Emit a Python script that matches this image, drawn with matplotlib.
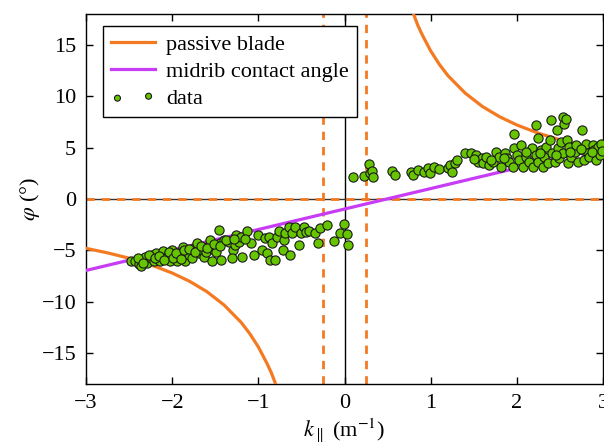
import numpy as np
import matplotlib
matplotlib.use("Agg")
import matplotlib.pyplot as plt

# passive blade curve (two branches)
blade_x_neg = [-3.0, -2.75, -2.5, -2.25, -2.0, -1.8, -1.6, -1.4, -1.2, -1.1, -1.0, -0.95, -0.9, -0.85, -0.8]
blade_y_neg = [-4.8, -5.24, -5.76, -6.4, -7.2, -8.0, -9.0, -10.3, -12.0, -13.1, -14.4, -15.2, -16.0, -16.9, -18.0]
blade_x_pos = [0.8, 0.85, 0.9, 0.95, 1.0, 1.1, 1.2, 1.4, 1.6, 1.8, 2.0, 2.25, 2.5, 2.75, 3.0]
blade_y_pos = [18.0, 16.9, 16.0, 15.2, 14.4, 13.1, 12.0, 10.3, 9.0, 8.0, 7.2, 6.4, 5.76, 5.24, 4.8]

# midrib contact angle line
midrib_x = [-3.0, 3.0]
midrib_y = [-6.95, 5.0]

# asymptotes of the blade model
k_cut = [-0.25, 0.25]

# measured points
data_x = [
    -2.48, -2.43, -2.39, -2.36, -2.33, -2.31, -2.29, -2.25, -2.23, -2.21,
    -2.19, -2.17, -2.14, -2.11, -2.08, -2.05, -2.02, -2.00, -1.97, -1.94,
    -1.92, -1.88, -1.88, -1.85, -1.83, -1.80, -1.77, -1.75, -1.71, -1.69,
    -1.67, -1.63, -1.61, -1.59, -1.56, -1.54, -1.52, -1.50, -1.49, -1.46,
    -1.44, -1.43, -1.40, -1.34, -1.30, -1.31, -1.27, -1.26, -1.23, -1.20,
    -1.19, -1.13, -1.08, -1.05, -1.01, -0.96, -0.92, -0.90, -0.88, -0.86,
    -0.84, -0.81, -0.78, -0.76, -0.72, -0.70, -0.69, -0.65, -0.63, -0.61,
    -0.57, -0.53, -0.51, -0.47, -0.45, -0.41, -0.34, -0.31, -0.28, -0.20,
    -0.12, -0.05, -0.01, 0.03, 0.04,
    -2.40, -2.34, -2.27, -2.20, -2.15, -2.10, -2.04, -1.99, -1.95, -1.90,
    -1.86, -1.81, -1.74, -1.66, -1.60, -1.52, -1.45, -1.37, -1.28, -1.16,
    0.10, 0.22, 0.28, 0.30, 0.32, 0.33, 0.55, 0.58, 0.77, 0.79,
    0.85, 0.92, 0.97, 0.99, 1.04, 1.10, 1.20, 1.22, 1.25, 1.28,
    1.30,
    1.40, 1.47, 1.53, 1.55, 1.59, 1.61, 1.64, 1.68, 1.72, 1.76,
    1.79, 1.82, 1.86, 1.88, 1.91, 1.95, 1.97, 1.97, 2.00, 2.03,
    2.05, 2.07, 2.11, 2.14, 2.17, 2.19, 2.22, 2.22, 2.24, 2.25,
    2.28, 2.30, 2.32, 2.34, 2.36, 2.38, 2.40, 2.41, 2.44, 2.46,
    2.48, 2.49, 2.51, 2.53, 2.54, 2.55, 2.57, 2.58, 2.59, 2.61,
    2.63, 2.67, 2.69, 2.71, 2.75, 2.77, 2.78, 2.80, 2.82, 2.84,
    2.88, 2.90, 2.92, 2.94, 2.96, 2.98,
    1.50, 1.70, 1.85, 2.10, 2.27, 2.45, 2.62, 2.74, 2.87, 2.99,
]
data_y = [
    -5.99, -6.08, -6.31, -6.50, -5.92, -5.60, -6.25, -5.76, -5.44, -6.08,
    -5.27, -5.86, -6.08, -5.02, -5.76, -5.44, -5.99, -4.95, -5.60, -6.08,
    -5.27, -4.63, -5.60, -6.08, -5.11, -5.44, -5.76, -4.79, -4.24, -5.27,
    -4.95, -5.60, -5.11, -4.63, -3.98, -6.08, -4.95, -4.47, -5.11, -3.01,
    -4.30, -5.92, -3.98, -4.14, -4.95, -5.76, -4.47, -3.49, -4.14, -3.72,
    -5.60, -3.07, -4.30, -5.44, -3.49, -4.95, -3.82, -5.27, -3.72, -5.92,
    -4.30, -5.92, -3.72, -3.07, -4.95, -3.98, -3.33, -2.75, -5.44, -3.33,
    -2.69, -4.47, -3.33, -2.75, -3.17, -3.07, -3.33, -4.30, -2.85, -2.52,
    -4.04, -3.33, -2.43, -3.40, -4.47,
    -5.70, -6.20, -5.40, -5.70, -5.50, -5.90, -5.20, -5.70, -5.30, -5.80,
    -5.00, -4.90, -5.20, -4.60, -4.80, -4.40, -4.60, -4.00, -3.90, -3.90,
    2.17, 2.23, 3.40, 2.49, 2.75, 2.10, 2.75, 2.33, 2.65, 2.33,
    2.82, 2.65, 2.98, 2.49, 3.14, 2.88, 2.98, 3.30, 2.65, 3.46,
    3.79,
    4.43, 4.43, 4.27, 3.62, 3.95, 3.46, 4.11, 3.30, 3.62, 4.59,
    4.11, 3.14, 4.43, 3.95, 3.62, 3.14, 6.37, 4.92, 4.27, 3.79,
    5.24, 3.14, 4.11, 3.62, 4.92, 3.14, 7.18, 4.27, 5.98, 3.62,
    4.76, 3.14, 4.11, 5.08, 3.46, 5.73, 7.67, 4.43, 3.62, 6.70,
    4.92, 3.95, 5.56, 7.99, 4.43, 7.34, 7.83, 5.73, 3.46, 5.08,
    4.11, 4.59, 5.24, 3.62, 6.70, 4.76, 3.79, 5.40, 4.43, 4.11,
    5.24, 4.76, 3.79, 5.08, 4.27, 5.40,
    3.90, 3.80, 4.00, 4.60, 4.50, 4.30, 4.60, 4.90, 4.60, 4.70,
]

plt.rcParams["font.family"] = "Liberation Serif"
plt.rcParams["font.size"] = 16
plt.rcParams["mathtext.fontset"] = "stix"

orange = "#f47a22"
purple = "#c93cf5"

fig = plt.figure(figsize=(6.04, 4.46), dpi=100)
ax = fig.add_axes([0.1424, 0.139, 0.8561, 0.8296])

ax.axvline(0, color="black", linewidth=1.0, zorder=1)
ax.axhline(0, color="#333333", linewidth=1.0, zorder=1)
ax.axhline(0, color=orange, linewidth=2, linestyle=(0, (3, 2.5)), zorder=2)
for k in k_cut:
    ax.axvline(k, color=orange, linewidth=2, linestyle=(0, (3, 2.5)), zorder=2)

ax.plot(blade_x_neg, blade_y_neg, color=orange, linewidth=2.3, zorder=3, label="passive blade")
ax.plot(blade_x_pos, blade_y_pos, color=orange, linewidth=2.3, zorder=3)
ax.plot(midrib_x, midrib_y, color=purple, linewidth=2.3, zorder=3, label="midrib contact angle")
ax.scatter(data_x, data_y, s=44, facecolor="#66c400", edgecolor="#1a1a1a",
           linewidth=0.8, zorder=4, label="data")

ax.set_xlim(-3, 3)
ax.set_ylim(-18, 18)
ax.set_xticks([-3, -2, -1, 0, 1, 2, 3])
ax.set_xticklabels(["\u22123", "\u22122", "\u22121", "0", "1", "2", "3"])
ax.set_yticks([-15, -10, -5, 0, 5, 10, 15])
ax.set_yticklabels(["\u221215", "\u221210", "\u22125", "0", "5", "10", "15"])
ax.tick_params(direction="in", top=True, right=True, length=5, width=1, pad=7)
for s in ax.spines.values():
    s.set_linewidth(1.0)

ax.set_xlabel(r"$k_{\parallel}$ (m$^{-1}$)", labelpad=3)
ax.set_ylabel(r"$\varphi$ (°)", labelpad=0)

leg = ax.legend(loc="upper left", bbox_to_anchor=(0.02, 0.985), scatterpoints=2,
                markerscale=0.65, fancybox=False, framealpha=1, edgecolor="black",
                handlelength=2.0, handletextpad=0.5, borderpad=0.35,
                labelspacing=0.3, borderaxespad=0.3)
leg.get_frame().set_linewidth(1.0)

fig.savefig("out.png", dpi=100)
